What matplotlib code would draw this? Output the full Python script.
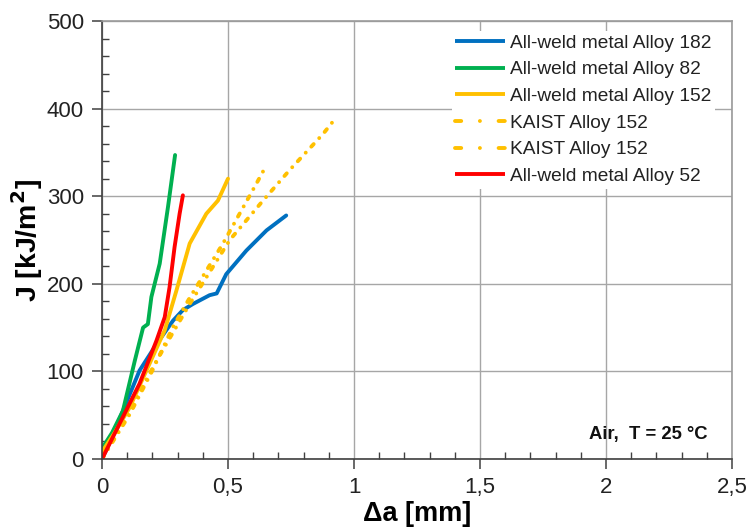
import matplotlib
matplotlib.use("Agg")
import matplotlib.pyplot as plt
from matplotlib.lines import Line2D
from matplotlib.ticker import MultipleLocator, FuncFormatter

plt.rcParams['font.family'] = ['Liberation Sans', 'DejaVu Sans']

# Crack extension (mm) vs J-integral (kJ/m^2)
alloy182_da = [0.0, 0.04, 0.083, 0.149, 0.216, 0.282, 0.321, 0.361, 0.427, 0.455, 0.493, 0.573, 0.653, 0.731]
alloy182_J = [0, 25, 55, 101, 131, 158, 170, 177, 187, 189, 211, 238, 261, 278]

alloy82_da = [0.0, 0.04, 0.083, 0.13, 0.163, 0.182, 0.196, 0.229, 0.262, 0.29]
alloy82_J = [12, 30, 55, 112, 150, 154, 185, 223, 288, 347]

alloy152_da = [0.0, 0.05, 0.11, 0.189, 0.249, 0.295, 0.348, 0.414, 0.46, 0.5]
alloy152_J = [8, 30, 59, 109, 147, 192, 246, 280, 295, 320]

kaist152a_da = [0.0, 0.11, 0.2, 0.28, 0.35, 0.414, 0.48, 0.546, 0.612, 0.648]
kaist152a_J = [0, 51, 101, 150, 185, 215, 246, 280, 314, 333]

kaist152b_da = [0.0, 0.1, 0.216, 0.348, 0.507, 0.639, 0.745, 0.877, 0.913]
kaist152b_J = [0, 50, 112, 177, 250, 295, 330, 371, 384]

alloy52_da = [0.0, 0.083, 0.149, 0.216, 0.249, 0.268, 0.288, 0.308, 0.321]
alloy52_J = [0, 48, 86, 135, 162, 196, 242, 280, 301]

labels = ["All-weld metal Alloy 182", "All-weld metal Alloy 82", "All-weld metal Alloy 152",
          "KAIST Alloy 152", "KAIST Alloy 152", "All-weld metal Alloy 52"]

c_blue = "#0070C0"
c_green = "#00B050"
c_yellow = "#FFC000"
c_red = "#FF0000"

fig = plt.figure(figsize=(7.53, 5.30), dpi=100)
ax = fig.add_axes([102 / 753, 1 - 459 / 530, 630 / 753, 438 / 530])

lw = 2.8
dashdot = (0, (0.9, 2.1, 0.01, 2.1))          # dense pattern on the curves
dashdot_key = (0, (1.6, 4.8, 0.01, 4.8))      # dash - dot - dash in the legend keys

ax.plot(alloy182_da, alloy182_J, color=c_blue, lw=lw, solid_capstyle='round')
ax.plot(alloy82_da, alloy82_J, color=c_green, lw=lw, solid_capstyle='round')
ax.plot(alloy152_da, alloy152_J, color=c_yellow, lw=lw, solid_capstyle='round')
ax.plot(kaist152a_da, kaist152a_J, color=c_yellow, lw=lw, ls=dashdot, dash_capstyle='round')
ax.plot(kaist152b_da, kaist152b_J, color=c_yellow, lw=lw, ls=dashdot, dash_capstyle='round')
ax.plot(alloy52_da, alloy52_J, color=c_red, lw=lw, solid_capstyle='round')

key_styles = [(c_blue, '-'), (c_green, '-'), (c_yellow, '-'),
              (c_yellow, dashdot_key), (c_yellow, dashdot_key), (c_red, '-')]
handles = [Line2D([], [], color=c, lw=lw, ls=s, dash_capstyle='round', solid_capstyle='butt')
           for c, s in key_styles]

ax.set_xlim(0, 2.5)
ax.set_ylim(0, 500)
ax.xaxis.set_major_locator(MultipleLocator(0.5))
ax.xaxis.set_minor_locator(MultipleLocator(0.1))
ax.yaxis.set_major_locator(MultipleLocator(100))
ax.yaxis.set_minor_locator(MultipleLocator(20))

def comma_fmt(v, pos):
    return ("%g" % v).replace('.', ',')

ax.xaxis.set_major_formatter(FuncFormatter(comma_fmt))
ax.grid(True, which='major', color='#A6A6A6', lw=1.0)
ax.set_axisbelow(True)

for side in ('left', 'bottom'):
    ax.spines[side].set_color('#404040')
    ax.spines[side].set_linewidth(1.2)
for side in ('top', 'right'):
    ax.spines[side].set_color('#9a9a9a')
    ax.spines[side].set_linewidth(1.2)

ax.tick_params(which='major', direction='out', length=7, width=1.1, color='#404040',
               labelsize=16, labelcolor='#222222', pad=6)
ax.tick_params(which='minor', direction='in', length=5, width=1.0, color='#404040')

ax.set_xlabel("Δa [mm]", fontsize=19.5, fontweight='bold', labelpad=2)
ax.set_ylabel("J [kJ/m$^\\mathbf{2}$]", fontsize=20.5, fontweight='bold', labelpad=1)

leg = ax.legend(handles, labels, loc='upper right', bbox_to_anchor=(0.989, 1.0), frameon=True,
                fancybox=False, edgecolor='none', facecolor='white', framealpha=1.0, fontsize=13.8,
                handlelength=2.6, handletextpad=0.26, labelspacing=0.48, borderpad=0.2)
for t in leg.get_texts():
    t.set_color('#222222')

ax.text(0.962, 0.057, "Air,  T = 25 °C", transform=ax.transAxes, ha='right', va='center',
        fontsize=13.3, fontweight='bold', color='#111111')

fig.savefig("out.png", dpi=100)
